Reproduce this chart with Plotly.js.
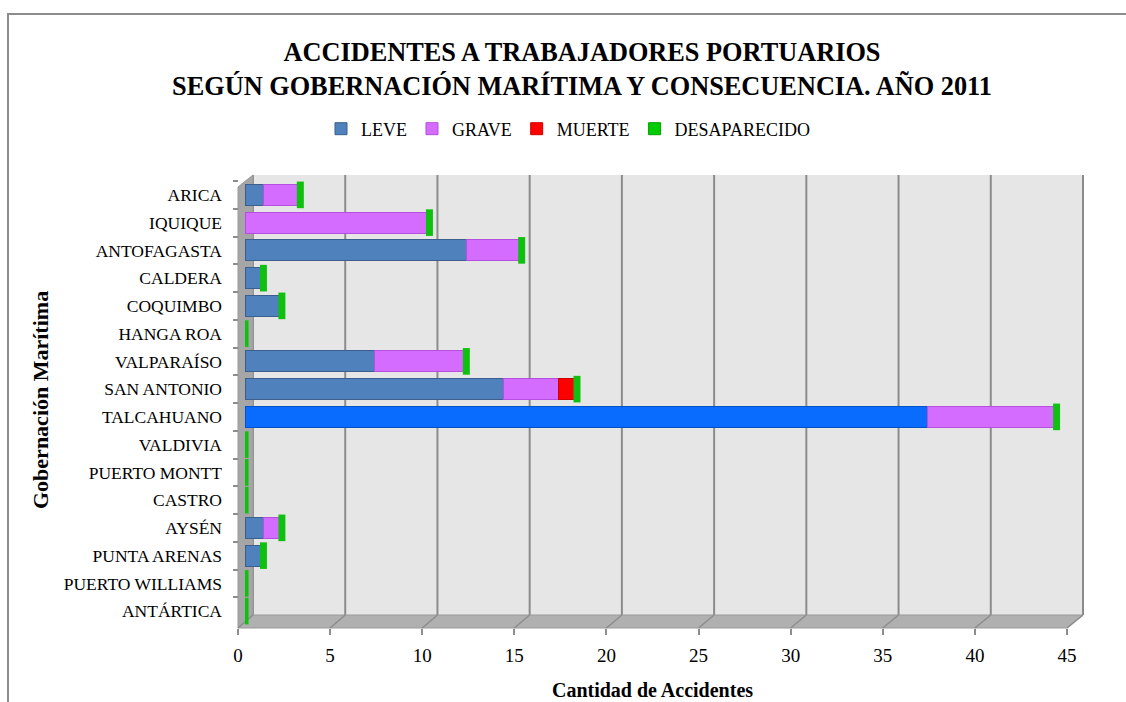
<!DOCTYPE html>
<html>
<head>
<meta charset="utf-8">
<script src="https://cdn.plot.ly/plotly-3.0.1.min.js"></script>
<style>html,body{margin:0;padding:0;background:#fff;}#chart{width:1126px;height:702px;}</style>
</head>
<body>
<div id="chart"></div>
<script>
// ---- data ----
const categories = ["ARICA","IQUIQUE","ANTOFAGASTA","CALDERA","COQUIMBO","HANGA ROA","VALPARAÍSO","SAN ANTONIO","TALCAHUANO","VALDIVIA","PUERTO MONTT","CASTRO","AYSÉN","PUNTA ARENAS","PUERTO WILLIAMS","ANTÁRTICA"];
const leve         = [1, 0, 12, 1, 2, 0, 7, 14, 37, 0, 0, 0, 1, 1, 0, 0];
const grave        = [2, 10, 3, 0, 0, 0, 5, 3, 7, 0, 0, 0, 1, 0, 0, 0];
const muerte       = [0, 0, 0, 0, 0, 0, 0, 1, 0, 0, 0, 0, 0, 0, 0, 0];
const desaparecido = [0, 0, 0, 0, 0, 0, 0, 0, 0, 0, 0, 0, 0, 0, 0, 0];
const xTicks = [0, 5, 10, 15, 20, 25, 30, 35, 40, 45];

// ---- layout helpers (pixels -> paper) ----
const W = 1126, H = 702;
const X = px => px / W;
const Y = py => 1 - py / H;
const FONT = "Liberation Serif, Times New Roman, serif";

const totals = categories.map((c, i) => leve[i] + grave[i] + muerte[i] + desaparecido[i]);
const leveColors = categories.map(c => c === "TALCAHUANO" ? "#0a6cff" : "#4f81bd");
const leveLines = categories.map(c => c === "TALCAHUANO" ? "#0050c8" : "#3a5f8f");

const traces = [
  {type: "bar", orientation: "h", name: "LEVE", y: categories, x: leve,
   marker: {color: leveColors, line: {color: leveLines, width: 1}}},
  {type: "bar", orientation: "h", name: "GRAVE", y: categories, x: grave,
   marker: {color: "#d46cff", line: {color: "#b44fe0", width: 1}}},
  {type: "bar", orientation: "h", name: "MUERTE", y: categories, x: muerte,
   marker: {color: "#ff0000", line: {color: "#d00000", width: 1}}},
  {type: "bar", orientation: "h", name: "DESAPARECIDO", y: categories, x: desaparecido,
   marker: {color: "#00cc00", line: {color: "#00a000", width: 1}}},
  // cylinder end caps (DESAPARECIDO layer sits at the end of each stack)
  {type: "scatter", mode: "markers", y: categories, x: totals, showlegend: false, hoverinfo: "skip",
   marker: {symbol: "line-ns", size: 19, line: {color: "#10c010", width: 7}}},
  // front axis carrier
  {type: "scatter", mode: "markers", x: [0], y: [categories[0]], xaxis: "x2", yaxis: "y",
   showlegend: false, hoverinfo: "skip", marker: {opacity: 0}}
];

// 3D box decoration
const shapes = [];
shapes.push({type: "rect", xref: "paper", yref: "paper", x0: X(8), x1: X(1140), y0: Y(14), y1: Y(720),
  line: {color: "#8c8c8c", width: 2}, fillcolor: "rgba(0,0,0,0)", layer: "below"});
shapes.push({type: "rect", xref: "paper", yref: "paper", x0: X(253), x1: X(1083), y0: Y(175), y1: Y(615),
  line: {width: 0}, fillcolor: "#e6e6e6", layer: "below"});
const backX = v => 253 + v * (830 / 45);
const frontX = v => 238 + v * (829 / 45);
xTicks.forEach(v => {
  shapes.push({type: "line", xref: "paper", yref: "paper", x0: X(backX(v)), x1: X(backX(v)), y0: Y(175), y1: Y(615),
    line: {color: "#8c8c8c", width: 2}, layer: "below"});
});
shapes.push({type: "path", xref: "paper", yref: "paper",
  path: `M ${X(238)} ${Y(187)} L ${X(253)} ${Y(175)} L ${X(253)} ${Y(615)} L ${X(238)} ${Y(628)} Z`,
  fillcolor: "#a6a6a6", line: {color: "#999999", width: 1}, layer: "below"});
shapes.push({type: "path", xref: "paper", yref: "paper",
  path: `M ${X(238)} ${Y(628)} L ${X(253)} ${Y(615)} L ${X(1083)} ${Y(615)} L ${X(1067)} ${Y(628)} Z`,
  fillcolor: "#b0b0b0", line: {color: "#9a9a9a", width: 1}, layer: "below"});
xTicks.forEach(v => {
  shapes.push({type: "line", xref: "paper", yref: "paper", x0: X(frontX(v)), x1: X(backX(v)), y0: Y(628), y1: Y(615),
    line: {color: "#8c8c8c", width: 1.5}, layer: "below"});
});

const layout = {
  width: W, height: H,
  margin: {l: 0, r: 0, t: 0, b: 0},
  paper_bgcolor: "#ffffff",
  plot_bgcolor: "rgba(0,0,0,0)",
  barmode: "stack",
  bargap: 0.24,
  showlegend: true,
  font: {family: FONT, color: "#000"},
  title: {
    text: "ACCIDENTES A TRABAJADORES PORTUARIOS<br>SEGÚN GOBERNACIÓN MARÍTIMA Y CONSECUENCIA. AÑO 2011",
    font: {family: FONT, size: 26.3, weight: 700, color: "#000"},
    x: X(582), xanchor: "center", y: Y(61), yanchor: "middle", yref: "container"
  },
  legend: {
    orientation: "h", x: X(568), xanchor: "center", y: Y(129), yanchor: "middle",
    font: {family: FONT, size: 18, color: "#000"}, bgcolor: "rgba(0,0,0,0)",
    traceorder: "normal", itemwidth: 30
  },
  xaxis: {
    domain: [X(245), X(1075)], range: [0, 45], anchor: "y",
    showgrid: false, zeroline: false, showline: false, showticklabels: false, ticks: "", fixedrange: true
  },
  xaxis2: {
    domain: [X(238), X(1067)], range: [0, 45], anchor: "free", position: Y(628), side: "bottom",
    tickvals: xTicks, ticktext: xTicks.map(String),
    ticks: "outside", ticklen: 6, tickwidth: 2, tickcolor: "#8c8c8c", ticklabelstandoff: 4,
    showgrid: false, zeroline: false, showline: false,
    tickfont: {family: FONT, size: 19, color: "#000"},
    title: {text: "Cantidad de Accidentes", font: {family: FONT, size: 20, weight: 700, color: "#000"}, standoff: 18}
  },
  yaxis: {
    domain: [Y(625), Y(181)], type: "category", categoryorder: "array", categoryarray: categories,
    range: [15.5, -0.5], autorange: false, anchor: "free", position: X(238),
    ticks: "outside", ticklen: 5, tickwidth: 2, tickcolor: "#8c8c8c", tickson: "boundaries",
    showgrid: false, zeroline: false, showline: false, ticklabelstandoff: 16,
    tickfont: {family: FONT, size: 17.5, color: "#000"}
  },
  annotations: [{
    text: "Gobernación Marítima", textangle: -90, xref: "paper", yref: "paper",
    x: X(40), y: Y(400), xanchor: "center", yanchor: "middle", showarrow: false,
    font: {family: FONT, size: 22, weight: 700, color: "#000"}
  }],
  shapes: shapes
};

Plotly.newPlot("chart", traces, layout, {displayModeBar: false, staticPlot: true});
</script>
</body>
</html>
